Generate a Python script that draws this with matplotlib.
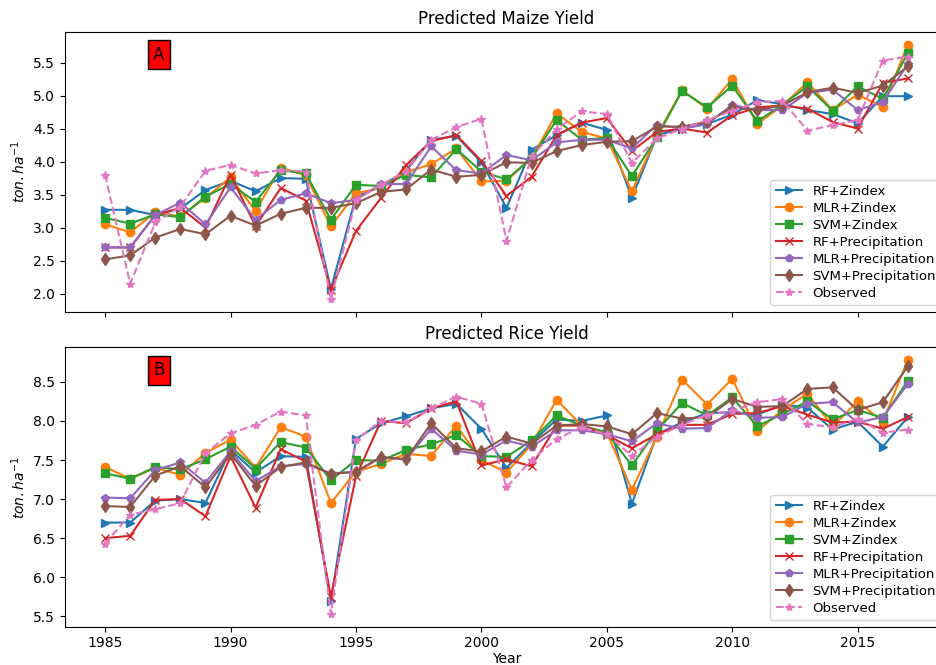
import matplotlib
matplotlib.use('Agg')
import matplotlib.pyplot as plt

years = list(range(1985, 2018))
labels = ['RF+Zindex', 'MLR+Zindex', 'SVM+Zindex', 'RF+Precipitation',
          'MLR+Precipitation', 'SVM+Precipitation', 'Observed']

# Maize yield (ton/ha)
maize_rf_z = [3.27, 3.27, 3.19, 3.29, 3.57, 3.71, 3.55, 3.75, 3.74, 2.07, 3.47, 3.62, 3.87, 4.33, 4.39, 3.99, 3.30,
              4.18, 4.40, 4.59, 4.48, 3.45, 4.40, 4.50, 4.57, 4.71, 4.93, 4.87, 4.78, 4.72, 4.58, 4.99, 4.99]
maize_mlr_z = [3.05, 2.93, 3.23, 3.17, 3.45, 3.76, 3.25, 3.91, 3.79, 3.02, 3.52, 3.60, 3.84, 3.96, 4.20, 3.70, 3.71,
               4.05, 4.73, 4.45, 4.35, 3.55, 4.40, 5.08, 4.80, 5.25, 4.57, 4.85, 5.20, 4.78, 5.01, 4.83, 5.77]
maize_svm_z = [3.15, 3.06, 3.20, 3.16, 3.47, 3.66, 3.39, 3.87, 3.82, 3.12, 3.65, 3.63, 3.80, 3.76, 4.19, 3.85, 3.73,
               4.05, 4.63, 4.33, 4.36, 3.78, 4.37, 5.07, 4.82, 5.15, 4.61, 4.86, 5.14, 4.77, 5.14, 4.95, 5.64]
maize_rf_p = [2.70, 2.70, 3.19, 3.30, 3.00, 3.80, 3.02, 3.60, 3.41, 2.06, 2.95, 3.45, 3.95, 4.31, 4.40, 4.01, 3.48,
              3.77, 4.40, 4.59, 4.66, 4.16, 4.45, 4.50, 4.44, 4.70, 4.82, 4.85, 4.80, 4.60, 4.50, 5.19, 5.26]
maize_mlr_p = [2.70, 2.70, 3.19, 3.38, 3.05, 3.61, 3.12, 3.42, 3.52, 3.37, 3.42, 3.66, 3.66, 4.23, 3.87, 3.82, 4.10,
               4.02, 4.29, 4.33, 4.33, 4.20, 4.56, 4.50, 4.57, 4.86, 4.78, 4.78, 5.04, 5.09, 4.78, 4.90, 5.48]
maize_svm_p = [2.52, 2.58, 2.85, 2.98, 2.90, 3.18, 3.03, 3.21, 3.30, 3.30, 3.37, 3.54, 3.58, 3.88, 3.77, 3.80, 3.99,
               3.98, 4.16, 4.25, 4.30, 4.31, 4.53, 4.53, 4.60, 4.82, 4.78, 4.85, 5.05, 5.12, 5.04, 5.15, 5.44]
maize_obs = [3.80, 2.15, 3.08, 3.32, 3.86, 3.95, 3.82, 3.87, 3.85, 1.92, 3.42, 3.65, 3.85, 4.33, 4.52, 4.65, 2.80,
             4.08, 4.49, 4.76, 4.72, 3.98, 4.35, 4.50, 4.63, 4.77, 4.90, 4.92, 4.47, 4.55, 4.63, 5.53, 5.59]

# Rice yield (ton/ha)
rice_rf_z = [6.70, 6.70, 6.98, 7.00, 6.95, 7.63, 7.34, 7.55, 7.54, 5.69, 7.77, 7.97, 8.06, 8.16, 8.22, 7.90, 7.40,
             7.72, 8.02, 8.00, 8.07, 6.94, 7.83, 7.98, 8.10, 8.11, 8.08, 8.21, 8.17, 7.89, 7.99, 7.67, 8.05]
rice_mlr_z = [7.41, 7.26, 7.40, 7.31, 7.59, 7.76, 7.40, 7.92, 7.80, 6.95, 7.35, 7.45, 7.58, 7.55, 7.94, 7.50, 7.34,
              7.70, 8.27, 7.94, 7.85, 7.12, 7.80, 8.53, 8.21, 8.54, 7.87, 8.14, 8.35, 7.93, 8.25, 7.99, 8.78]
rice_svm_z = [7.33, 7.26, 7.41, 7.38, 7.51, 7.67, 7.39, 7.73, 7.66, 7.24, 7.50, 7.49, 7.63, 7.70, 7.82, 7.55, 7.54,
              7.75, 8.07, 7.94, 7.85, 7.43, 7.88, 8.23, 8.07, 8.30, 7.93, 8.09, 8.25, 8.02, 8.14, 8.04, 8.51]
rice_rf_p = [6.50, 6.53, 6.99, 7.00, 6.78, 7.55, 6.89, 7.64, 7.48, 5.75, 7.29, 8.00, 7.97, 8.16, 8.25, 7.43, 7.51,
             7.42, 7.94, 7.94, 7.82, 7.65, 7.83, 7.95, 7.95, 8.09, 8.10, 8.19, 8.08, 7.98, 7.99, 7.90, 8.05]
rice_mlr_p = [7.02, 7.01, 7.37, 7.47, 7.21, 7.61, 7.23, 7.42, 7.45, 7.33, 7.35, 7.53, 7.51, 7.90, 7.62, 7.57, 7.75,
              7.67, 7.88, 7.88, 7.83, 7.74, 7.97, 7.90, 7.91, 8.14, 8.04, 8.05, 8.22, 8.24, 7.98, 8.05, 8.47]
rice_svm_p = [6.91, 6.90, 7.30, 7.42, 7.15, 7.58, 7.17, 7.41, 7.47, 7.32, 7.35, 7.54, 7.51, 7.97, 7.65, 7.61, 7.80,
              7.71, 7.94, 7.96, 7.93, 7.83, 8.10, 8.03, 8.05, 8.28, 8.18, 8.19, 8.41, 8.43, 8.14, 8.24, 8.70]
rice_obs = [6.43, 6.80, 6.87, 6.95, 7.59, 7.84, 7.95, 8.12, 8.07, 5.53, 7.76, 8.00, 7.98, 8.16, 8.31, 8.22, 7.15,
            7.50, 7.77, 7.92, 7.83, 7.55, 7.80, 7.95, 8.08, 8.13, 8.24, 8.28, 7.96, 7.92, 8.03, 7.85, 7.89]

fmts = ['->', '-o', '-s', '-x', '-p', '-d', '--*']

fig, (ax1, ax2) = plt.subplots(2, 1, sharex=True, figsize=(9.36, 6.65), dpi=100)
ax1.set_position([0.0694, 0.5313, 0.9434, 0.4206])
ax2.set_position([0.0694, 0.0576, 0.9434, 0.4202])

maize = [maize_rf_z, maize_mlr_z, maize_svm_z, maize_rf_p, maize_mlr_p, maize_svm_p, maize_obs]
rice = [rice_rf_z, rice_mlr_z, rice_svm_z, rice_rf_p, rice_mlr_p, rice_svm_p, rice_obs]

for i in range(7):
    ax1.plot(years, maize[i], fmts[i], color='C%d' % i, label=labels[i])
    ax2.plot(years, rice[i], fmts[i], color='C%d' % i, label=labels[i])

ax1.set_title('Predicted Maize Yield')
ax2.set_title('Predicted Rice Yield')
ax1.set_ylabel('$ton.ha^{-1}$')
ax2.set_ylabel('$ton.ha^{-1}$')
ax2.set_xlabel('Year', labelpad=1)
ax1.text(0.1, 0.9, 'A', transform=ax1.transAxes, fontsize=12, bbox=dict(facecolor='red', edgecolor='black'))
ax2.text(0.1, 0.9, 'B', transform=ax2.transAxes, fontsize=12, bbox=dict(facecolor='red', edgecolor='black'))
ax1.legend(loc='lower right', fontsize=9.5, labelspacing=0.3, bbox_to_anchor=(1.0, 0))
ax2.legend(loc='lower right', fontsize=9.5, labelspacing=0.3, bbox_to_anchor=(1.0, 0))

plt.savefig('out.png', dpi=100)
